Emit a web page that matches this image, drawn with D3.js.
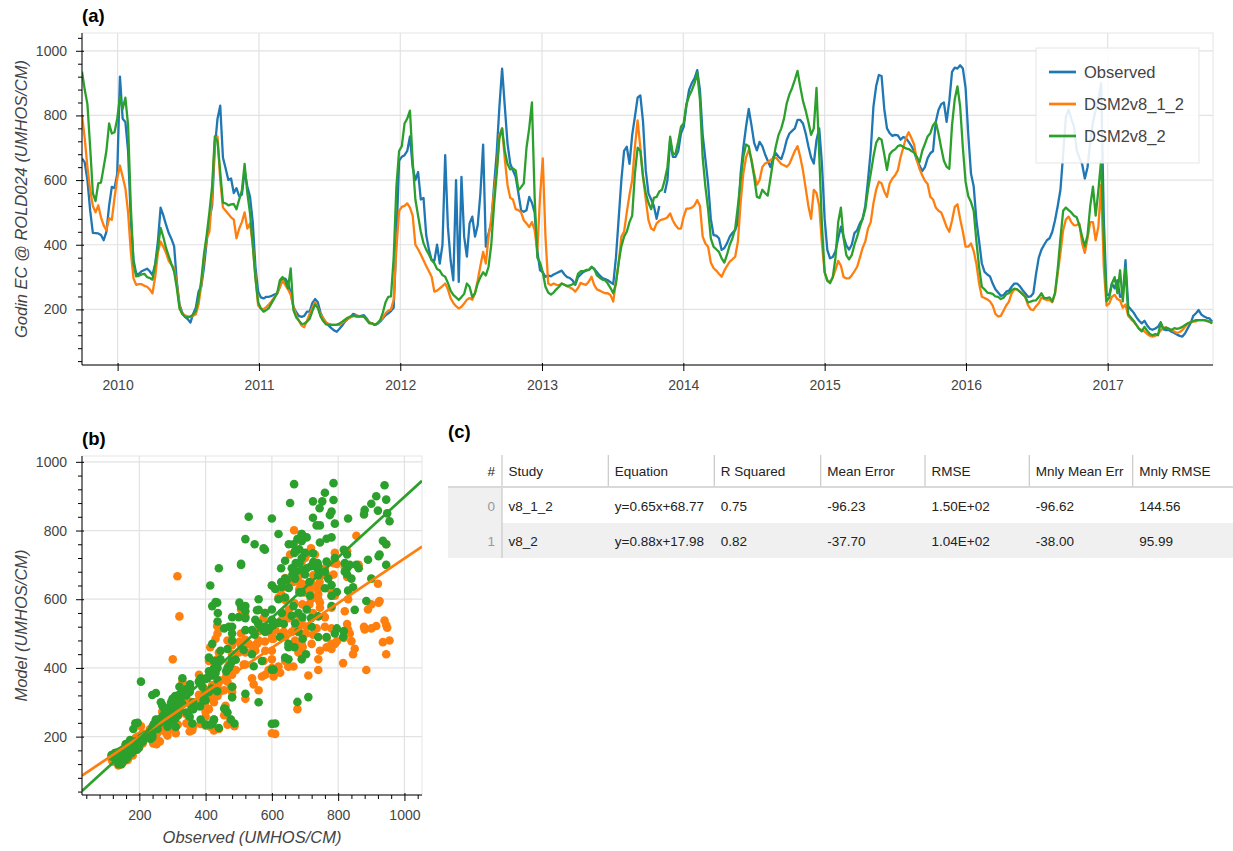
<!DOCTYPE html>
<html>
<head>
<meta charset="utf-8">
<script src="https://cdn.jsdelivr.net/npm/d3@7"></script>
<style>
  body { margin: 0; background: #fff; }
  svg text { font-family: "Liberation Sans", Arial, Helvetica, sans-serif; }
</style>
</head>
<body>
<svg id="chart" width="1233" height="851"></svg>
<script>
// ---- Godin-filtered EC at ROLD024, weekly samples starting 2009-10-01 ----
const startDate = "2009-10-01";
const endDate = "2017-09-30";
const stepDays = 7;

const observed = [
  667, 655, 600, 507, 437, 436, 435, 430, 414, 440,
  520, 579, 575, 620, 920, 790, 780, 690, 480, 353,
  310, 310, 318, 322, 326, 318, 306, 340, 410, 515,
  491, 462, 436, 418, 395, 285, 215, 190, 177, 170,
  159, 186, 205, 255, 270, 330, 410, 480, 520, 700,
  790, 830, 670, 636, 600, 605, 560, 575, 550, 555,
  628, 580, 548, 470, 330, 255, 237, 234, 239, 239,
  242, 246, 250, 270, 296, 295, 282, 250, 208, 192,
  180, 177, 180, 193, 193, 220, 232, 222, 190, 172,
  160, 150, 142, 135, 131, 140, 150, 162, 170, 176,
  186, 183, 178, 180, 182, 172, 160, 157, 152, 155,
  162, 172, 182, 188, 195, 205, 420, 660, 672, 677,
  690, 735, 640, 600, 625, 540, 545, 430, 385, 353,
  350, 400, 342, 400, 677, 456, 352, 290, 600, 285,
  610, 425, 363, 466, 487, 425, 460, 560, 710, 394,
  435, 466, 579, 683, 827, 945, 827, 713, 651, 630,
  610, 560, 507, 502, 507, 548, 530, 500, 380, 321,
  315, 301, 305, 302, 308, 312, 316, 320, 308, 300,
  297, 290, 276, 300, 308, 316, 320, 322, 330, 325,
  315, 305, 297, 294, 290, 284, 278, 360, 480, 600,
  690, 703, 650, 740, 796, 855, 862, 780, 630, 559,
  540, 520, 480, 520, null, 560, 600, 724, 672, 672,
  690, 745, 765, 830, 880, 900, 915, 940, 878, 740,
  665, 590, 480, 430, 428, 420, 384, 390, 405, 425,
  437, 445, 470, 620, 700, 765, 820, 770, 715, 692,
  718, 705, 680, 660, 640, 670, 683, 672, 665, 690,
  724, 744, 752, 760, 786, 786, 775, 745, 705, 670,
  651, 724, 760, 650, 480, 383, 358, 362, 380, 420,
  456, 425, 398, 385, 400, 436, 445, 466, 480, 520,
  600, 690, 827, 890, 925, 922, 820, 760, 745, 737,
  740, 738, 725, 733, 730, 718, 705, 690, 662, 645,
  628, 640, 668, 683, 690, 780, 817, 835, 840, 780,
  845, 935, 948, 945, 955, 945, 885, 740, 620, 580,
  475, 410, 342, 316, 308, 302, 280, 262, 252, 242,
  244, 255, 258, 270, 280, 280, 272, 260, 250, 239,
  240, 250, 310, 360, 385, 400, 414, 420, 440, 476,
  520, 570, 680, 796, 817, 790, 765, 693, 668, 650,
  605, 640, 720, 780, 815, 850, 900, 480, 245, 245,
  280, 265, 290, 239, 240, 352, 210, 200, 190, 176,
  165, 157, 165, 150, 140, 137, 141, 146, 160, 138,
  136, 136, 131, 127, 122, 118, 116, 126, 142, 157,
  180, 188, 198, 184, 178, 174, 172, 162
];

const dsm2v8_1_2 = [
  801, 730, 640, 570, 520, 500, 522, 485, 460, 445,
  482, 477, 545, 605, 645, 610, 575, 500, 380, 296,
  276, 278, 278, 273, 270, 262, 250, 300, 375, 410,
  394, 375, 350, 338, 328, 275, 208, 186, 182, 178,
  177, 180, 185, 215, 275, 360, 420, 440, 550, 720,
  735, 600, 515, 505, 495, 485, 478, 420, 450, 470,
  500, 450, 466, 400, 300, 212, 202, 201, 207, 216,
  226, 238, 248, 270, 288, 276, 262, 245, 208, 183,
  165, 150, 145, 165, 186, 205, 222, 205, 185, 172,
  160, 155, 153, 152, 152, 152, 158, 165, 170, 175,
  178, 181, 180, 178, 177, 168, 158, 157, 152, 157,
  165, 175, 188, 196, 200, 230, 390, 505, 517, 520,
  528, 515, 490, 400, 386, 370, 352, 334, 318, 301,
  255, 258, 265, 272, 280, 262, 235, 220, 210, 203,
  208, 218, 230, 235, 230, 250, 290, 335, 378, 342,
  425, 480, 560, 630, 740, 760, 665, 585, 545, 540,
  510, 507, 500, 476, 466, 455, 470, 445, 380, 550,
  667, 425, 280, 275, 280, 276, 275, 280, 276, 272,
  268, 263, 255, 266, 282, 278, 276, 286, 301, 275,
  262, 258, 254, 250, 250, 244, 224, 285, 342, 425,
  440, 500, 555, 600, 703, 785, 700, 610, 540, 476,
  450, 445, 466, 474, 478, 480, 485, 497, 475, 460,
  450, 450, 487, 512, 512, 515, 522, 538, 520, 425,
  404, 394, 345, 328, 320, 310, 301, 320, 335, 348,
  355, 363, 410, 530, 620, 670, 693, 665, 620, 585,
  600, 640, 651, 655, 662, 667, 670, 660, 650, 646,
  641, 650, 670, 690, 705, 672, 630, 575, 520, 480,
  570, 560, 520, 404, 315, 290, 286, 298, 322, 350,
  335, 300, 296, 296, 305, 318, 332, 360, 390, 410,
  450, 470, 528, 570, 595, 590, 565, 548, 590, 605,
  615, 630, 670, 700, 730, 748, 730, 710, 662, 635,
  615, 598, 588, 548, 540, 515, 505, 500, 478, 455,
  440, 475, 517, 525, 480, 440, 394, 394, 404, 380,
  340, 280, 239, 235, 231, 225, 212, 186, 178, 180,
  196, 212, 224, 250, 262, 262, 255, 248, 239, 214,
  200, 198, 210, 219, 237, 232, 229, 229, 222, 250,
  310, 375, 445, 478, 487, 470, 460, 461, 465, 404,
  375, 420, 470, 470, 414, 456, 585, 330, 212, 218,
  239, 245, 232, 228, 205, 215, 180, 170, 162, 152,
  140, 136, 132, 124, 118, 116, 118, 125, 135, 143,
  144, 140, 136, 132, 127, 130, 136, 146, 156, 161,
  162, 163, 167, 167, 167, 166, 162, 157
];

const dsm2v8_2 = [
  935, 880, 835, 703, 560, 535, 590, 592, 640, 690,
  775, 744, 748, 790, 858, 820, 855, 770, 520, 342,
  302, 304, 308, 310, 300, 297, 292, 338, 390, 452,
  424, 390, 365, 340, 316, 265, 202, 186, 177, 175,
  178, 184, 195, 235, 290, 370, 430, 500, 580, 735,
  720, 625, 530, 528, 522, 525, 526, 510, 540, 568,
  650, 560, 497, 400, 295, 222, 203, 193, 198, 205,
  220, 235, 250, 290, 300, 288, 265, 327, 198, 176,
  166, 155, 156, 162, 171, 195, 215, 205, 178, 164,
  154, 152, 152, 152, 153, 156, 162, 168, 174, 178,
  181, 178, 178, 179, 178, 168, 157, 157, 152, 157,
  167, 190, 222, 239, 240, 360, 580, 690, 705, 775,
  790, 815, 660, 540, 490, 440, 405, 385, 370, 352,
  343, 325, 320, 306, 301, 282, 258, 245, 237, 229,
  238, 248, 280, 270, 238, 250, 280, 300, 315, 305,
  332, 400, 520, 620, 730, 760, 690, 650, 633, 636,
  630, 569, 578, 590, 700, 760, 840, 548, 360, 345,
  315, 270, 252, 246, 252, 262, 270, 280, 276, 272,
  274, 278, 280, 310, 318, 318, 322, 322, 332, 325,
  305, 298, 292, 290, 280, 266, 250, 280, 345, 395,
  425, 440, 470, 490, 621, 700, 690, 610, 560, 530,
  510, 545, 548, 565, 570, 600, 640, 734, 680, 682,
  720, 765, 776, 835, 860, 878, 900, 932, 847, 670,
  580, 510, 420, 394, 386, 378, 358, 345, 370, 400,
  420, 450, 520, 600, 672, 710, 705, 660, 610, 548,
  545, 570, 560, 552, 605, 660, 705, 740, 760, 790,
  837, 865, 885, 910, 938, 889, 845, 815, 780, 740,
  760, 885, 680, 460, 315, 288, 281, 300, 360, 470,
  515, 420, 368, 355, 368, 400, 425, 455, 480, 510,
  570, 620, 672, 715, 730, 725, 680, 632, 680, 690,
  695, 705, 708, 703, 698, 696, 690, 685, 672, 655,
  690, 712, 735, 745, 770, 780, 744, 700, 660, 641,
  635, 770, 850, 890, 827, 700, 595, 550, 532, 505,
  410, 330, 270, 262, 252, 250, 248, 240, 239, 232,
  236, 247, 250, 260, 264, 262, 255, 247, 239, 222,
  224, 227, 228, 238, 250, 235, 235, 237, 225, 250,
  325, 420, 505, 515, 507, 500, 490, 485, 460, 425,
  395, 430, 520, 580, 490, 569, 660, 420, 225, 236,
  280, 300, 250, 321, 225, 330, 185, 175, 165, 152,
  140, 132, 146, 134, 124, 120, 124, 120, 158, 140,
  144, 140, 136, 142, 140, 142, 146, 152, 157, 160,
  164, 167, 167, 167, 167, 164, 162, 157
];

const seriesNames = ["Observed", "DSM2v8_1_2", "DSM2v8_2"];
const seriesColors = ["#1f77b4", "#ff7f0e", "#2ca02c"];
const yearTicks = [2010, 2011, 2012, 2013, 2014, 2015, 2016, 2017];
const valueTicks = [200, 400, 600, 800, 1000];

// ---- regression statistics for each study ----
const studies = ["v8_1_2", "v8_2"];
const slopes = [0.65, 0.88];
const intercepts = [68.77, 17.98];
const rSquared = [0.75, 0.82];
const meanError = [-96.23, -37.70];
const rmse = [150.0, 104.0];
const mnlyMeanErr = [-96.62, -38.00];
const mnlyRmse = [144.56, 95.99];
const tableHeaders = ["Study", "Equation", "R Squared", "Mean Error", "RMSE", "Mnly Mean Err", "Mnly RMSE"];

// ---------------------------------------------------------------
const svg = d3.select("#chart");
const TICK = "#444";
const GRID = "#e2e2e2";
const FONT_TICK = "14px";
const FONT_AXIS = "16.5px";

const start = new Date(startDate + "T00:00:00Z");
const dates = observed.map((_, i) => d3.utcDay.offset(start, i * stepDays));
const modelSeries = [dsm2v8_1_2, dsm2v8_2];
const allSeries = [observed, dsm2v8_1_2, dsm2v8_2];

function minorRange(lo, hi, step) {
  const out = [];
  for (let v = Math.ceil(lo / step) * step; v <= hi; v += step) if (v % 200 !== 0) out.push(v);
  return out;
}

function styleAxis(g) {
  g.select(".domain").remove();
  g.selectAll("text").attr("fill", TICK).style("font-size", FONT_TICK);
  g.selectAll("line").attr("stroke", "#000");
  return g;
}

function drawLeftAxis(g, scale, left, top, bottom, majors, minors) {
  const ax = g.append("g").attr("transform", `translate(${left},0)`);
  ax.append("g").call(d3.axisLeft(scale).tickValues(minors).tickSize(4).tickFormat(""))
    .call(styleAxis);
  ax.append("g").call(d3.axisLeft(scale).tickValues(majors).tickSize(6).tickPadding(9).tickFormat(d3.format("d")))
    .call(styleAxis)
    .selectAll(".tick line").attr("x1", 2);
  ax.append("line").attr("x1", 0).attr("x2", 0).attr("y1", top).attr("y2", bottom)
    .attr("stroke", "#000").attr("stroke-width", 1);
}

function drawBottomAxis(g, scale, bottom, left, right, majors, minors, fmt) {
  const ax = g.append("g").attr("transform", `translate(0,${bottom})`);
  if (minors.length) {
    ax.append("g").call(d3.axisBottom(scale).tickValues(minors).tickSize(4).tickFormat(""))
      .call(styleAxis);
  }
  ax.append("g").call(d3.axisBottom(scale).tickValues(majors).tickSize(6).tickPadding(9).tickFormat(fmt))
    .call(styleAxis)
    .selectAll(".tick line").attr("y1", -2);
  ax.append("line").attr("x1", left).attr("x2", right).attr("y1", 0).attr("y2", 0)
    .attr("stroke", "#000").attr("stroke-width", 1);
}

function panelTitle(text, xPos, yPos) {
  svg.append("text").attr("x", xPos).attr("y", yPos)
    .style("font-size", "18.5px").style("font-weight", "bold").attr("fill", "#000").text(text);
}

// ================= (a) time series =================
const A = { left: 82, top: 33, right: 1213, bottom: 365 };
const xA = d3.scaleUtc().domain([start, new Date(endDate + "T00:00:00Z")]).range([A.left, A.right]);
const yA = d3.scaleLinear().domain([28, 1055]).range([A.bottom, A.top]);
const yearDates = yearTicks.map(yr => new Date(Date.UTC(yr, 0, 1)));

const gA = svg.append("g");
gA.append("rect").attr("x", A.left).attr("y", A.top)
  .attr("width", A.right - A.left).attr("height", A.bottom - A.top)
  .attr("fill", "none").attr("stroke", "#e5e5e5");
gA.append("g").selectAll("line").data(yearDates).join("line")
  .attr("x1", d => xA(d)).attr("x2", d => xA(d)).attr("y1", A.top).attr("y2", A.bottom)
  .attr("stroke", GRID).attr("stroke-width", 1.2);
gA.append("g").selectAll("line").data(valueTicks).join("line")
  .attr("x1", A.left).attr("x2", A.right).attr("y1", d => yA(d)).attr("y2", d => yA(d))
  .attr("stroke", GRID).attr("stroke-width", 1.2);

svg.append("clipPath").attr("id", "clipA").append("rect")
  .attr("x", A.left).attr("y", A.top).attr("width", A.right - A.left).attr("height", A.bottom - A.top);

const lineA = d3.line()
  .defined(d => d.v != null)
  .x(d => xA(d.t)).y(d => yA(d.v));

const gLines = gA.append("g").attr("clip-path", "url(#clipA)");
allSeries.forEach((s, k) => {
  gLines.append("path")
    .datum(s.map((v, i) => ({ t: dates[i], v })))
    .attr("d", lineA)
    .attr("fill", "none")
    .attr("stroke", seriesColors[k])
    .attr("stroke-width", 2.3)
    .attr("stroke-linejoin", "round");
});

drawLeftAxis(gA, yA, A.left, A.top, A.bottom, valueTicks, minorRange(28, 1055, 40));
drawBottomAxis(gA, xA, A.bottom, A.left, A.right, yearDates, [], d3.utcFormat("%Y"));

gA.append("text")
  .attr("transform", `translate(27,${(A.top + A.bottom) / 2}) rotate(-90)`)
  .attr("text-anchor", "middle").style("font-size", FONT_AXIS).style("font-style", "italic")
  .attr("fill", TICK).text("Godin EC @ ROLD024 (UMHOS/CM)");

// legend
const leg = gA.append("g");
leg.append("rect").attr("x", 1036).attr("y", 48).attr("width", 163).attr("height", 115)
  .attr("fill", "#fff").attr("fill-opacity", 0.88).attr("stroke", "#e5e5e5");
seriesNames.forEach((name, k) => {
  const ly = 72 + k * 32;
  leg.append("line").attr("x1", 1049).attr("x2", 1076).attr("y1", ly).attr("y2", ly)
    .attr("stroke", seriesColors[k]).attr("stroke-width", 2.7);
  leg.append("text").attr("x", 1084).attr("y", ly).attr("dy", "0.36em")
    .style("font-size", "16.5px").attr("fill", TICK).text(name);
});

panelTitle("(a)", 82, 22);

// ================= (b) scatter =================
const B = { left: 82, top: 456, right: 422, bottom: 795 };
const xB = d3.scaleLinear().domain([27, 1053]).range([B.left, B.right]);
const yB = d3.scaleLinear().domain([30, 1017]).range([B.bottom, B.top]);

const gB = svg.append("g");
gB.append("rect").attr("x", B.left).attr("y", B.top)
  .attr("width", B.right - B.left).attr("height", B.bottom - B.top)
  .attr("fill", "none").attr("stroke", "#e5e5e5");
gB.append("g").selectAll("line").data(valueTicks).join("line")
  .attr("x1", d => xB(d)).attr("x2", d => xB(d)).attr("y1", B.top).attr("y2", B.bottom)
  .attr("stroke", GRID).attr("stroke-width", 1.2);
gB.append("g").selectAll("line").data(valueTicks).join("line")
  .attr("x1", B.left).attr("x2", B.right).attr("y1", d => yB(d)).attr("y2", d => yB(d))
  .attr("stroke", GRID).attr("stroke-width", 1.2);

svg.append("clipPath").attr("id", "clipB").append("rect")
  .attr("x", B.left).attr("y", B.top).attr("width", B.right - B.left).attr("height", B.bottom - B.top);
const gPts = gB.append("g").attr("clip-path", "url(#clipB)");

modelSeries.forEach((m, k) => {
  const pairs = observed.map((o, i) => ({ o, m: m[i] })).filter(p => p.o != null && p.m != null);
  gPts.append("g").selectAll("circle").data(pairs).join("circle")
    .attr("cx", p => xB(p.o)).attr("cy", p => yB(p.m)).attr("r", 4.3)
    .attr("fill", seriesColors[k + 1]);
});
modelSeries.forEach((m, k) => {
  const ends = xB.domain().map(xv => ({ x: xv, y: slopes[k] * xv + intercepts[k] }));
  gPts.append("line")
    .attr("x1", xB(ends[0].x)).attr("y1", yB(ends[0].y))
    .attr("x2", xB(ends[1].x)).attr("y2", yB(ends[1].y))
    .attr("stroke", seriesColors[k + 1]).attr("stroke-width", 2.7);
});

drawLeftAxis(gB, yB, B.left, B.top, B.bottom, valueTicks, minorRange(30, 1017, 40));
drawBottomAxis(gB, xB, B.bottom, B.left, B.right, valueTicks, minorRange(27, 1053, 40), d3.format("d"));

gB.append("text")
  .attr("transform", `translate(27,${(B.top + B.bottom) / 2}) rotate(-90)`)
  .attr("text-anchor", "middle").style("font-size", FONT_AXIS).style("font-style", "italic")
  .attr("fill", TICK).text("Model (UMHOS/CM)");
gB.append("text")
  .attr("x", (B.left + B.right) / 2).attr("y", 843)
  .attr("text-anchor", "middle").style("font-size", FONT_AXIS).style("font-style", "italic")
  .attr("fill", TICK).text("Observed (UMHOS/CM)");

panelTitle("(b)", 82, 445);

// ================= (c) statistics table =================
panelTitle("(c)", 448, 438);

function sci(v) {
  const [mant, exp] = v.toExponential(2).split("e");
  const sign = exp[0] === "-" ? "-" : "+";
  const digits = exp.replace(/^[+-]/, "").padStart(2, "0");
  return `${mant}E${sign}${digits}`;
}
const f2 = v => v.toFixed(2);
const rows = studies.map((s, i) => [
  s,
  `y=${f2(slopes[i])}x+${f2(intercepts[i])}`,
  f2(rSquared[i]),
  f2(meanError[i]),
  sci(rmse[i]),
  f2(mnlyMeanErr[i]),
  f2(mnlyRmse[i])
]);

const T = { left: 448, right: 1233, headTop: 455, headBottom: 487, rowH: 35 };
const idxRight = 495;
const sepX = [502, 608.3, 714.3, 820.7, 925, 1029.3, 1132.7];
const colText = sepX.map(s => s + 6.5);
const gT = svg.append("g");

// row backgrounds: index cells shaded, odd rows striped
rows.forEach((r, i) => {
  const top = T.headBottom + 1 + i * T.rowH;
  gT.append("rect").attr("x", T.left).attr("y", top).attr("width", sepX[0] - T.left).attr("height", T.rowH)
    .attr("fill", "#f0f0f0");
  if (i % 2 === 1) {
    gT.append("rect").attr("x", sepX[0]).attr("y", top).attr("width", T.right - sepX[0]).attr("height", T.rowH)
      .attr("fill", "#f0f0f0");
  }
});
// header separators and bottom border
sepX.forEach((sx, j) => {
  gT.append("line").attr("x1", sx).attr("x2", sx).attr("y1", T.headTop)
    .attr("y2", j === 0 ? T.headBottom + 1 + rows.length * T.rowH : T.headBottom)
    .attr("stroke", "#c8c8c8").attr("stroke-width", 1.2);
});
gT.append("line").attr("x1", T.left).attr("x2", T.right).attr("y1", T.headBottom).attr("y2", T.headBottom)
  .attr("stroke", "#d9d9d9").attr("stroke-width", 2);

gT.append("text").attr("x", idxRight).attr("y", 476).attr("text-anchor", "end")
  .style("font-size", "13.5px").attr("fill", "#222").text("#");
tableHeaders.forEach((h, j) => {
  gT.append("text").attr("x", colText[j]).attr("y", 476)
    .style("font-size", "13.5px").attr("fill", "#222").text(h);
});
rows.forEach((r, i) => {
  const base = 511 + i * T.rowH;
  gT.append("text").attr("x", idxRight).attr("y", base).attr("text-anchor", "end")
    .style("font-size", "13.5px").attr("fill", "#999").text(i);
  r.forEach((cell, j) => {
    gT.append("text").attr("x", colText[j]).attr("y", base)
      .style("font-size", "13.5px").attr("fill", "#222").text(cell);
  });
});
</script>
</body>
</html>
